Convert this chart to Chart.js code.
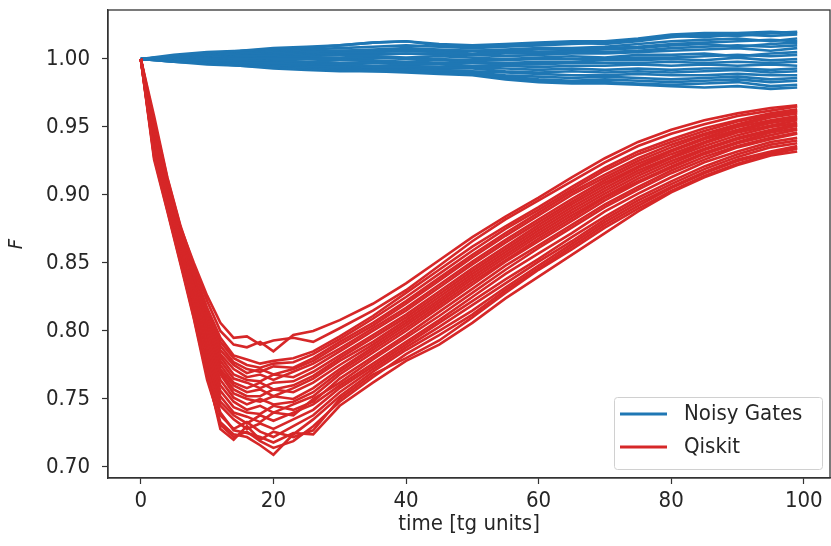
<!DOCTYPE html>
<html>
<head>
<meta charset="utf-8">
<script src="https://cdn.jsdelivr.net/npm/chart.js@4.4.0/dist/chart.umd.min.js"></script>
<style>
html, body { margin: 0; padding: 0; background: #fff; }
#wrap { position: relative; width: 831px; height: 546px; }
</style>
</head>
<body>
<div id="wrap"><canvas id="fidelityChart"></canvas></div>
<script>
// time axis (tg units) for each family of runs
const noisyTimes = [0, 5, 10, 15, 20, 25, 30, 35, 40, 45, 50, 55, 60, 65, 70, 75, 80, 85, 90, 95, 99];
const qiskitTimes = [0, 2, 4, 6, 8, 10, 12, 14, 16, 18, 20, 23, 26, 30, 35, 40, 45, 50, 55, 60, 65, 70, 75, 80, 85, 90, 95, 99];

// Noisy Gates runs, fidelity F
const noisyGatesRuns = [
    [1.000, 1.003, 1.005, 1.006, 1.008, 1.009, 1.010, 1.012, 1.013, 1.010, 1.009, 1.010, 1.011, 1.012, 1.011, 1.013, 1.016, 1.018, 1.017, 1.019, 1.020],
    [1.000, 1.002, 1.004, 1.006, 1.007, 1.008, 1.010, 1.012, 1.013, 1.011, 1.010, 1.011, 1.012, 1.013, 1.013, 1.015, 1.018, 1.019, 1.019, 1.020, 1.019],
    [1.000, 1.002, 1.004, 1.005, 1.006, 1.007, 1.008, 1.009, 1.010, 1.009, 1.008, 1.009, 1.010, 1.011, 1.012, 1.014, 1.017, 1.016, 1.018, 1.017, 1.018],
    [1.000, 1.002, 1.003, 1.004, 1.005, 1.006, 1.006, 1.007, 1.008, 1.007, 1.006, 1.007, 1.008, 1.008, 1.009, 1.011, 1.013, 1.014, 1.015, 1.013, 1.015],
    [1.000, 1.001, 1.003, 1.004, 1.004, 1.005, 1.006, 1.006, 1.007, 1.006, 1.006, 1.006, 1.007, 1.007, 1.008, 1.009, 1.011, 1.012, 1.013, 1.014, 1.013],
    [1.000, 1.001, 1.002, 1.003, 1.003, 1.004, 1.005, 1.005, 1.006, 1.005, 1.004, 1.005, 1.005, 1.006, 1.007, 1.008, 1.010, 1.011, 1.009, 1.011, 1.012],
    [1.000, 1.001, 1.002, 1.002, 1.003, 1.003, 1.004, 1.004, 1.004, 1.004, 1.003, 1.004, 1.004, 1.005, 1.005, 1.006, 1.008, 1.009, 1.010, 1.009, 1.010],
    [1.000, 1.001, 1.001, 1.002, 1.002, 1.002, 1.003, 1.003, 1.004, 1.003, 1.003, 1.002, 1.003, 1.004, 1.004, 1.005, 1.006, 1.007, 1.008, 1.006, 1.008],
    [1.000, 1.000, 1.001, 1.000, 1.001, 1.001, 1.001, 1.002, 1.001, 1.002, 1.001, 1.000, 1.001, 1.002, 1.001, 1.003, 1.003, 1.004, 1.002, 1.004, 1.005],
    [1.000, 1.000, 1.000, 1.001, 1.000, 1.000, 1.000, 1.001, 1.000, 1.000, 0.999, 0.999, 1.000, 1.000, 1.000, 1.001, 1.001, 1.002, 1.003, 1.002, 1.003],
    [1.000, 1.000, 0.999, 0.999, 0.999, 0.998, 0.999, 0.999, 0.998, 0.999, 0.998, 0.997, 0.998, 0.998, 0.999, 0.999, 1.000, 0.999, 1.001, 0.999, 1.000],
    [1.000, 1.000, 0.999, 0.998, 0.998, 0.998, 0.997, 0.998, 0.997, 0.997, 0.997, 0.996, 0.996, 0.997, 0.997, 0.997, 0.998, 0.997, 0.998, 0.997, 0.998],
    [1.000, 0.999, 0.999, 0.998, 0.997, 0.997, 0.996, 0.997, 0.996, 0.996, 0.995, 0.995, 0.994, 0.995, 0.995, 0.996, 0.995, 0.996, 0.995, 0.996, 0.995],
    [1.000, 0.999, 0.998, 0.997, 0.997, 0.996, 0.996, 0.995, 0.995, 0.994, 0.994, 0.993, 0.992, 0.993, 0.992, 0.993, 0.992, 0.993, 0.993, 0.992, 0.993],
    [1.000, 0.999, 0.998, 0.997, 0.996, 0.995, 0.995, 0.994, 0.994, 0.993, 0.993, 0.991, 0.990, 0.991, 0.990, 0.991, 0.990, 0.991, 0.992, 0.990, 0.991],
    [1.000, 0.999, 0.998, 0.996, 0.996, 0.995, 0.994, 0.994, 0.993, 0.992, 0.991, 0.990, 0.989, 0.988, 0.988, 0.989, 0.988, 0.988, 0.989, 0.988, 0.988],
    [1.000, 0.999, 0.997, 0.996, 0.995, 0.994, 0.993, 0.993, 0.992, 0.991, 0.990, 0.988, 0.987, 0.986, 0.987, 0.986, 0.985, 0.986, 0.987, 0.985, 0.986],
    [1.000, 0.998, 0.997, 0.996, 0.994, 0.993, 0.992, 0.991, 0.991, 0.990, 0.989, 0.987, 0.985, 0.984, 0.985, 0.984, 0.983, 0.984, 0.985, 0.983, 0.984],
    [1.000, 0.998, 0.997, 0.995, 0.994, 0.993, 0.992, 0.992, 0.991, 0.990, 0.989, 0.986, 0.984, 0.983, 0.983, 0.982, 0.981, 0.982, 0.983, 0.980, 0.981],
    [1.000, 0.998, 0.996, 0.995, 0.993, 0.992, 0.991, 0.991, 0.990, 0.989, 0.988, 0.985, 0.983, 0.982, 0.982, 0.981, 0.980, 0.979, 0.980, 0.978, 0.979]
];

// Qiskit runs, fidelity F
const qiskitRuns = [
    [1.000, 0.926, 0.888, 0.849, 0.809, 0.764, 0.733, 0.724, 0.722, 0.716, 0.709, 0.724, 0.735, 0.752, 0.770, 0.786, 0.800, 0.815, 0.832, 0.848, 0.864, 0.880, 0.894, 0.906, 0.917, 0.926, 0.932, 0.936],
    [1.000, 0.929, 0.890, 0.851, 0.810, 0.767, 0.731, 0.722, 0.726, 0.719, 0.714, 0.719, 0.730, 0.748, 0.766, 0.783, 0.797, 0.812, 0.830, 0.846, 0.862, 0.878, 0.892, 0.905, 0.916, 0.925, 0.931, 0.935],
    [1.000, 0.928, 0.889, 0.850, 0.812, 0.772, 0.740, 0.727, 0.725, 0.722, 0.718, 0.725, 0.724, 0.745, 0.762, 0.778, 0.790, 0.806, 0.824, 0.840, 0.856, 0.872, 0.888, 0.902, 0.913, 0.922, 0.929, 0.932],
    [1.000, 0.930, 0.892, 0.852, 0.812, 0.770, 0.728, 0.720, 0.730, 0.720, 0.726, 0.722, 0.727, 0.750, 0.768, 0.780, 0.793, 0.810, 0.828, 0.845, 0.860, 0.876, 0.890, 0.903, 0.914, 0.923, 0.930, 0.934],
    [1.000, 0.932, 0.893, 0.854, 0.815, 0.773, 0.738, 0.728, 0.733, 0.726, 0.722, 0.730, 0.738, 0.755, 0.772, 0.788, 0.803, 0.819, 0.835, 0.851, 0.866, 0.882, 0.896, 0.908, 0.919, 0.928, 0.935, 0.938],
    [1.000, 0.934, 0.895, 0.856, 0.818, 0.777, 0.745, 0.735, 0.728, 0.732, 0.728, 0.735, 0.742, 0.758, 0.774, 0.790, 0.806, 0.822, 0.838, 0.853, 0.869, 0.884, 0.898, 0.910, 0.921, 0.930, 0.937, 0.940],
    [1.000, 0.936, 0.896, 0.857, 0.820, 0.780, 0.748, 0.738, 0.732, 0.738, 0.734, 0.740, 0.746, 0.760, 0.776, 0.792, 0.808, 0.825, 0.842, 0.857, 0.872, 0.888, 0.901, 0.913, 0.924, 0.932, 0.939, 0.942],
    [1.000, 0.937, 0.898, 0.859, 0.822, 0.783, 0.752, 0.740, 0.737, 0.733, 0.740, 0.738, 0.750, 0.762, 0.779, 0.795, 0.811, 0.828, 0.845, 0.861, 0.876, 0.891, 0.904, 0.916, 0.926, 0.935, 0.941, 0.945],
    [1.000, 0.938, 0.899, 0.860, 0.824, 0.786, 0.756, 0.744, 0.740, 0.739, 0.745, 0.742, 0.748, 0.765, 0.781, 0.797, 0.814, 0.831, 0.848, 0.863, 0.878, 0.893, 0.906, 0.918, 0.928, 0.936, 0.942, 0.946],
    [1.000, 0.940, 0.900, 0.862, 0.826, 0.790, 0.760, 0.748, 0.742, 0.745, 0.740, 0.746, 0.752, 0.768, 0.784, 0.800, 0.817, 0.834, 0.851, 0.866, 0.881, 0.896, 0.909, 0.920, 0.930, 0.938, 0.944, 0.948],
    [1.000, 0.941, 0.901, 0.863, 0.828, 0.792, 0.764, 0.751, 0.746, 0.750, 0.746, 0.748, 0.755, 0.770, 0.786, 0.802, 0.819, 0.836, 0.852, 0.868, 0.883, 0.898, 0.910, 0.921, 0.931, 0.939, 0.946, 0.949],
    [1.000, 0.942, 0.902, 0.865, 0.830, 0.795, 0.768, 0.754, 0.750, 0.748, 0.752, 0.750, 0.758, 0.772, 0.788, 0.804, 0.821, 0.838, 0.854, 0.870, 0.885, 0.899, 0.912, 0.923, 0.933, 0.941, 0.947, 0.951],
    [1.000, 0.943, 0.903, 0.866, 0.832, 0.798, 0.770, 0.757, 0.752, 0.752, 0.757, 0.755, 0.762, 0.775, 0.790, 0.806, 0.823, 0.840, 0.856, 0.872, 0.887, 0.901, 0.914, 0.925, 0.934, 0.942, 0.948, 0.952],
    [1.000, 0.944, 0.904, 0.867, 0.833, 0.800, 0.772, 0.760, 0.755, 0.757, 0.752, 0.758, 0.765, 0.778, 0.792, 0.808, 0.825, 0.842, 0.858, 0.874, 0.889, 0.903, 0.916, 0.927, 0.936, 0.944, 0.950, 0.953],
    [1.000, 0.945, 0.905, 0.868, 0.834, 0.802, 0.775, 0.762, 0.758, 0.762, 0.757, 0.760, 0.767, 0.780, 0.795, 0.810, 0.827, 0.844, 0.860, 0.876, 0.891, 0.905, 0.918, 0.928, 0.938, 0.946, 0.951, 0.955],
    [1.000, 0.946, 0.906, 0.869, 0.836, 0.804, 0.778, 0.765, 0.762, 0.758, 0.762, 0.763, 0.770, 0.782, 0.797, 0.812, 0.829, 0.846, 0.862, 0.878, 0.893, 0.907, 0.920, 0.930, 0.939, 0.947, 0.953, 0.956],
    [1.000, 0.947, 0.906, 0.870, 0.838, 0.806, 0.781, 0.768, 0.764, 0.763, 0.768, 0.766, 0.773, 0.785, 0.800, 0.815, 0.832, 0.849, 0.865, 0.880, 0.895, 0.909, 0.921, 0.932, 0.941, 0.948, 0.954, 0.957],
    [1.000, 0.948, 0.907, 0.871, 0.839, 0.808, 0.783, 0.772, 0.766, 0.768, 0.764, 0.770, 0.776, 0.787, 0.802, 0.817, 0.834, 0.851, 0.867, 0.882, 0.897, 0.911, 0.923, 0.933, 0.942, 0.950, 0.955, 0.958],
    [1.000, 0.949, 0.908, 0.871, 0.840, 0.810, 0.786, 0.775, 0.769, 0.772, 0.768, 0.772, 0.778, 0.790, 0.804, 0.820, 0.837, 0.854, 0.870, 0.885, 0.900, 0.913, 0.925, 0.935, 0.944, 0.951, 0.957, 0.960],
    [1.000, 0.950, 0.909, 0.872, 0.842, 0.812, 0.789, 0.777, 0.772, 0.770, 0.774, 0.773, 0.780, 0.792, 0.806, 0.822, 0.839, 0.856, 0.872, 0.887, 0.902, 0.915, 0.927, 0.937, 0.945, 0.952, 0.958, 0.961],
    [1.000, 0.951, 0.910, 0.873, 0.843, 0.814, 0.792, 0.780, 0.775, 0.773, 0.776, 0.777, 0.783, 0.794, 0.809, 0.825, 0.842, 0.859, 0.875, 0.889, 0.904, 0.918, 0.930, 0.939, 0.947, 0.954, 0.959, 0.962],
    [1.000, 0.952, 0.910, 0.874, 0.845, 0.817, 0.795, 0.782, 0.779, 0.776, 0.778, 0.780, 0.785, 0.796, 0.811, 0.828, 0.845, 0.862, 0.877, 0.891, 0.906, 0.920, 0.932, 0.941, 0.949, 0.955, 0.960, 0.963],
    [1.000, 0.955, 0.912, 0.876, 0.850, 0.826, 0.806, 0.795, 0.796, 0.790, 0.793, 0.795, 0.792, 0.802, 0.815, 0.830, 0.848, 0.866, 0.882, 0.896, 0.910, 0.924, 0.936, 0.945, 0.952, 0.958, 0.962, 0.965],
    [1.000, 0.958, 0.913, 0.877, 0.848, 0.822, 0.800, 0.790, 0.788, 0.792, 0.785, 0.797, 0.800, 0.808, 0.820, 0.835, 0.852, 0.869, 0.884, 0.898, 0.913, 0.927, 0.939, 0.948, 0.955, 0.960, 0.964, 0.966]
];

const xTickValues = [0, 20, 40, 60, 80, 100];
const yTickValues = [0.70, 0.75, 0.80, 0.85, 0.90, 0.95, 1.00];
const legendLabels = ['Noisy Gates', 'Qiskit'];
const seriesColors = ['#1f77b4', '#d62728'];

const FONT = '"DejaVu Sans Condensed", "DejaVu Sans", sans-serif';
const TEXT_COLOR = '#262626';

function toPoints(times, values) {
    return values.map((v, i) => ({ x: times[i], y: v }));
}

const datasets = [];
noisyGatesRuns.forEach(run => {
    datasets.push({
        data: toPoints(noisyTimes, run),
        borderColor: seriesColors[0],
        borderWidth: 2.6,
        pointRadius: 0,
        tension: 0,
        order: 2
    });
});
qiskitRuns.forEach(run => {
    datasets.push({
        data: toPoints(qiskitTimes, run),
        borderColor: seriesColors[1],
        borderWidth: 2.6,
        pointRadius: 0,
        tension: 0,
        order: 1
    });
});

// box around the axes + legend in the lower right corner
const frameAndLegend = {
    id: 'frameAndLegend',
    afterDraw(chart) {
        const { ctx, chartArea: a } = chart;
        ctx.save();
        ctx.strokeStyle = '#333';
        ctx.lineWidth = 1.3;
        ctx.strokeRect(a.left, a.top, a.right - a.left, a.bottom - a.top);

        const boxW = 208, boxH = 72;
        const bx = a.right - 8 - boxW;
        const by = a.bottom - 9 - boxH;
        ctx.fillStyle = 'rgba(255,255,255,0.8)';
        ctx.strokeStyle = '#d0d0d0';
        ctx.lineWidth = 1;
        ctx.beginPath();
        ctx.roundRect(bx + 0.5, by + 0.5, boxW, boxH, 3);
        ctx.fill();
        ctx.stroke();

        ctx.font = '22px ' + FONT;
        ctx.textBaseline = 'middle';
        legendLabels.forEach((label, i) => {
            const cy = by + 17 + i * 33;
            ctx.strokeStyle = seriesColors[i];
            ctx.lineWidth = 3;
            ctx.beginPath();
            ctx.moveTo(bx + 6, cy);
            ctx.lineTo(bx + 53, cy);
            ctx.stroke();
            ctx.fillStyle = TEXT_COLOR;
            ctx.fillText(label, bx + 70, cy);
        });
        ctx.restore();
    }
};

const ctx = document.getElementById('fidelityChart').getContext('2d');
new Chart(ctx, {
    type: 'line',
    data: { datasets: datasets },
    options: {
        responsive: true,
        maintainAspectRatio: false,
        animation: false,
        events: [],
        layout: { padding: { top: 10, right: 1, left: 0, bottom: 0 } },
        plugins: {
            legend: { display: false },
            tooltip: { enabled: false }
        },
        scales: {
            x: {
                type: 'linear',
                min: -4.95,
                max: 103.95,
                afterBuildTicks: scale => {
                    scale.ticks = xTickValues.map(v => ({ value: v }));
                },
                afterFit: scale => {
                    scale.height = 68;
                    scale.paddingLeft = 0;
                    scale.paddingRight = 0;
                },
                grid: {
                    drawOnChartArea: false,
                    drawTicks: true,
                    tickLength: 6,
                    tickColor: '#333',
                    tickWidth: 1.2
                },
                border: { color: '#333', width: 1.3 },
                ticks: {
                    color: TEXT_COLOR,
                    padding: 4,
                    maxRotation: 0,
                    font: { family: FONT, size: 22 },
                    callback: v => String(v)
                },
                title: {
                    display: true,
                    text: 'time [tg units]',
                    color: TEXT_COLOR,
                    font: { family: FONT, size: 22 },
                    padding: { top: 0, bottom: 9 }
                }
            },
            y: {
                type: 'linear',
                min: 0.6919,
                max: 1.036,
                afterBuildTicks: scale => {
                    scale.ticks = yTickValues.map(v => ({ value: v }));
                },
                afterFit: scale => {
                    scale.width = 108;
                    scale.paddingTop = 0;
                    scale.paddingBottom = 0;
                },
                grid: {
                    drawOnChartArea: false,
                    drawTicks: true,
                    tickLength: 6,
                    tickColor: '#333',
                    tickWidth: 1.2
                },
                border: { color: '#333', width: 1.3 },
                ticks: {
                    color: TEXT_COLOR,
                    padding: 12,
                    font: { family: FONT, size: 22 },
                    callback: v => v.toFixed(2)
                },
                title: {
                    display: true,
                    text: 'F',
                    color: TEXT_COLOR,
                    font: { family: FONT, size: 20, style: 'italic' },
                    padding: { top: 5, bottom: 0 }
                }
            }
        }
    },
    plugins: [frameAndLegend]
});
</script>
</body>
</html>
